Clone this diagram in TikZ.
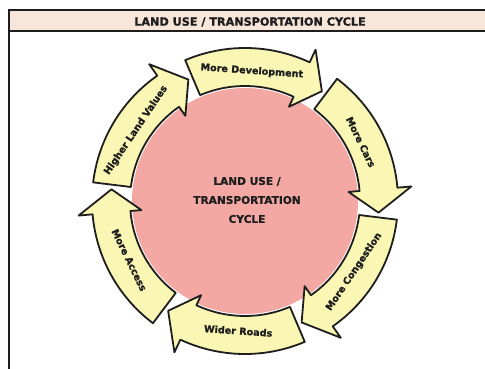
\documentclass[tikz,border=0pt]{standalone}
\usepackage{fontspec}
\setmainfont{DejaVu Sans}
\newfontfamily\heavy[FakeBold=1.2]{DejaVu Sans Bold}
\definecolor{arrowyellow}{HTML}{FAF7B4}
\definecolor{discpink}{HTML}{F3A8A4}
\definecolor{headerpeach}{HTML}{F9E6DA}
\definecolor{inkdark}{HTML}{1E1E1E}
\begin{document}
\begin{tikzpicture}[x=1pt,y=1pt,
  framerule/.style={draw=inkdark, line width=2.4pt},
  cyclearrow/.style={draw=inkdark, line width=1.8pt, fill=arrowyellow, line join=round},
  arrowlabel/.style={font=\heavy\fontsize{9.6}{12}\selectfont, text=inkdark, inner sep=0pt},
  titletext/.style={font=\heavy\fontsize{11.2}{14}\selectfont, text=inkdark, inner sep=0pt},
  disctext/.style={font=\heavy\fontsize{10.6}{19}\selectfont, text=inkdark, align=center, inner sep=0pt}]
\useasboundingbox (0,0) rectangle (485,368);
\clip (0,0) rectangle (485,368);
\fill[white] (0,0) rectangle (485,368);

% frame with header band
\draw[framerule, fill=headerpeach] (9,358) rectangle (495,337);
\draw[framerule] (9,337) -- (9,-10);
\node[titletext] (title) at (250,346) {LAND USE / TRANSPORTATION CYCLE};

% central disc and the ring of curved arrows
\begin{scope}[shift={(245,167)}]
  \fill[discpink] (0,0) circle[radius=113];
  \node[disctext] (centre) at (2,1) {LAND USE /\\TRANSPORTATION\\CYCLE};
  \foreach \c/\txt/\rot [count=\i] in {
      86/More Development/-4,
      26/More Cars/-64,
      -34/More Congestion/56,
      -94/Wider Roads/-4,
      -154/More Access/-64,
      146/Higher Land Values/56} {
    \pgfmathsetmacro\angTail{\c+27}
    \pgfmathsetmacro\angBase{\c-21}
    \pgfmathsetmacro\angTip{\c-31}
    \pgfmathsetmacro\angLbl{\c+1}
    \draw[cyclearrow] (\angTail:153)
      arc[start angle=\angTail, end angle=\angBase, radius=153]
      -- (\angBase:167) -- (\angTip:134) -- (\angBase:104) -- (\angBase:115)
      arc[start angle=\angBase, end angle=\angTail, radius=115] -- cycle;
    \node[arrowlabel, rotate=\rot] (label\i) at (\angLbl:130) {\txt};
  }
\end{scope}
\end{tikzpicture}
\end{document}
